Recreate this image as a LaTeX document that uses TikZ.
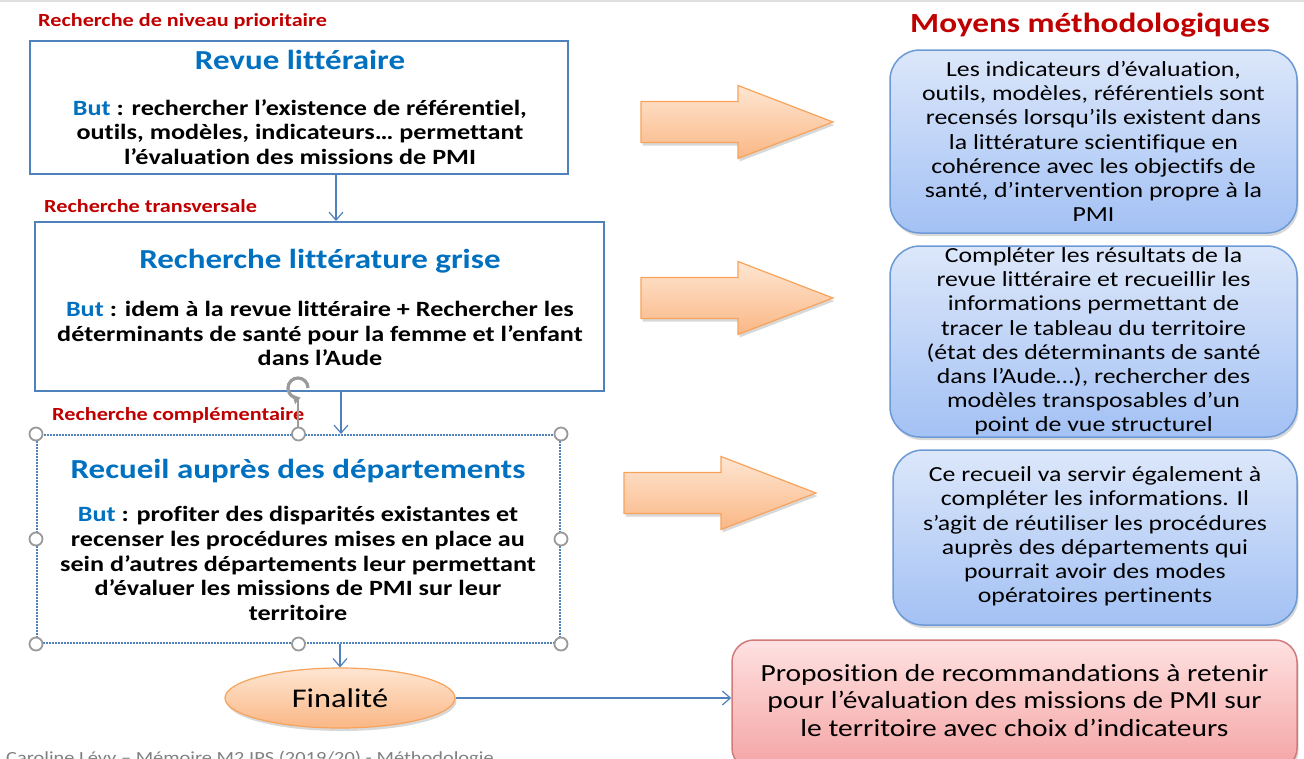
\documentclass[tikz,border=0pt]{standalone}
\usepackage{fontspec}
\setmainfont{Carlito}[FakeStretch=1.2, Ligatures=NoCommon]
\usetikzlibrary{shadows,arrows.meta,shapes.geometric,calc}
\definecolor{boxblue}{HTML}{4F81BD}
\definecolor{titleblue}{HTML}{0070C0}
\definecolor{labred}{HTML}{C00000}
\definecolor{orgdraw}{HTML}{F7A35C}
\definecolor{orgtop}{HTML}{FEE6D2}
\definecolor{orgbot}{HTML}{FAB785}
\definecolor{bltop}{HTML}{DCE7FA}
\definecolor{blbot}{HTML}{A3C1F4}
\definecolor{bldraw}{HTML}{6C9AD6}
\definecolor{rdtop}{HTML}{FFE1E1}
\definecolor{rdbot}{HTML}{F4A3A3}
\definecolor{rddraw}{HTML}{D37A7A}
\definecolor{hgray}{HTML}{9A9A9A}
\begin{document}
\begin{tikzpicture}[x=1pt,y=-1pt,
  lbox/.style={draw=boxblue, line width=2pt, rectangle, inner sep=0pt},
  ltitle/.style={font=\fontsize{27.5}{30}\selectfont\bfseries, text=titleblue, inner sep=0pt},
  lbody/.style={font=\fontsize{21.8}{24.6}\selectfont\bfseries, align=center, inner sep=0pt},
  rlabel/.style={font=\fontsize{18.5}{20}\selectfont\bfseries, text=labred, anchor=west, inner sep=0pt},
  softshadow/.style={drop shadow={shadow xshift=1.5pt, shadow yshift=-3pt, opacity=0.25, fill=black!60}},
  rbox/.style={draw=bldraw, line width=1.5pt, rounded corners=30pt, top color=bltop, bottom color=blbot, softshadow, inner sep=0pt},
  rtext/.style={font=\fontsize{21.5}{24.2}\selectfont, align=center, inner sep=0pt},
  conn/.style={draw=boxblue, line width=1.2pt, -{Straight Barb[length=8pt,width=14pt]}},
  handle/.style={circle, draw=hgray, fill=white, line width=1.8pt, minimum size=13pt, inner sep=0pt},
  blockarrow/.pic={\path[draw=orgdraw, line width=1.2pt, top color=orgtop, bottom color=orgbot, softshadow, line join=miter]
     (0,-20.5) -- (97,-20.5) -- (97,-36.5) -- (192,0) -- (97,36.5) -- (97,20.5) -- (0,20.5) -- cycle;}
]
\useasboundingbox (0,0) rectangle (1304,758);
\begin{scope}
\clip (0,0) rectangle (1304,758);
\fill[white] (0,0) rectangle (1304,758);
\draw[gray!25, line width=2pt] (0,1) -- (1304,1);

% left column
\node[rlabel] (l1) at (38,21) {Recherche de niveau prioritaire};
\node[lbox, minimum width=538pt, minimum height=133pt] (b1) at (299,107.5) {};
\node[ltitle] (t1) at (300,60) {Revue littéraire};
\node[lbody] (d1) at (300,132) {{\color{titleblue}But} : rechercher l’existence de référentiel,\\outils, modèles,  indicateurs… permettant\\l’évaluation des missions de PMI};

\node[rlabel] (l2) at (44,206) {Recherche transversale};
\node[lbox, minimum width=569pt, minimum height=169pt] (b2) at (319.5,306.5) {};
\node[ltitle] (t2) at (320,261) {Recherche littérature grise};
\node[lbody] (d2) at (320,333.5) {{\color{titleblue}But} : idem à la revue littéraire + Rechercher les\\déterminants de santé pour la femme et l’enfant\\dans l’Aude};

\node[rlabel] (l3) at (52,415) {Recherche complémentaire};
\node[rectangle, draw=boxblue, line width=2pt, densely dotted, minimum width=523pt, minimum height=208pt, inner sep=0pt] (b3) at (298.5,539) {};
\node[ltitle] (t3) at (298,471) {Recueil auprès des départements};
\node[lbody] (d3) at (298,563.5) {{\color{titleblue}But} : profiter des disparités existantes et\\recenser les procédures mises en place au\\sein d’autres départements leur permettant\\d’évaluer les missions de PMI sur leur\\territoire};

% selection handles and rotation icon
\coordinate (rot) at (298,388);
\draw[hgray, line width=1.5pt] (rot) ++(0,10) -- (b3.north -| rot);
\draw[hgray, line width=3.2pt, -{Triangle[length=7pt,width=9pt]}] ($(rot)+(10,0)$) arc[start angle=0, end angle=285, radius=10pt];
\foreach \a in {north west,north,north east,west,east,south west,south,south east}
  \node[handle] at (b3.\a) {};

\node[ellipse, draw=orgdraw, line width=1.2pt, top color=orgtop, bottom color=orgbot, softshadow,
      minimum width=230pt, minimum height=60pt, inner sep=0pt, font=\fontsize{27}{30}\selectfont] (fin) at (340,698) {Finalité};

% connectors
\coordinate (x1) at (336,0);
\coordinate (x2) at (341,0);
\draw[conn] (b1.south -| x1) -- (b2.north -| x1);
\draw[conn] (b2.south -| x2) -- (b3.north -| x2);
\draw[conn] (b3.south -| fin.north) -- (fin.north);

% block arrows
\pic at (641,122) {blockarrow};
\pic at (641,298) {blockarrow};
\pic at (624,493) {blockarrow};

% right column
\node[font=\fontsize{27.7}{30}\selectfont\bfseries, text=labred, inner sep=0pt] (mt) at (1090,25) {Moyens méthodologiques};
\node[rbox, minimum width=407pt, minimum height=183pt] (r1) at (1093.5,141.5) {};
\node[rtext] (r1t) at (1093.5,141.5) {Les indicateurs d’évaluation,\\outils, modèles, référentiels sont\\recensés lorsqu’ils existent dans\\la littérature scientifique en\\cohérence avec les objectifs de\\santé, d’intervention propre à la\\PMI};
\node[rbox, minimum width=407pt, minimum height=191pt] (r2) at (1093.5,341.5) {};
\node[rtext] (r2t) at (1093.5,341.5) {Compléter les résultats de la\\revue littéraire et recueillir les\\informations permettant de\\tracer le tableau du territoire\\(état des déterminants de santé\\dans l’Aude…), rechercher des\\modèles transposables d’un\\point de vue structurel};
\node[rbox, minimum width=404pt, minimum height=175pt] (r3) at (1095,537.5) {};
\node[rtext] (r3t) at (1095,536.5) {Ce recueil va servir également à\\compléter les informations. Il\\s’agit de réutiliser les procédures\\auprès des départements qui\\pourrait avoir des modes\\opératoires pertinents};

\node[draw=rddraw, line width=1.5pt, rounded corners=22pt, top color=rdtop, bottom color=rdbot, softshadow,
      minimum width=565pt, minimum height=130pt, inner sep=0pt] (reco) at (1014.5,705) {};
\node[font=\fontsize{24.6}{27.5}\selectfont, align=center, inner sep=0pt] (recot) at (1014.5,700.5) {Proposition de recommandations à retenir\\pour l’évaluation des missions de PMI sur\\le territoire avec choix d’indicateurs};
\draw[conn] (fin.east) -- (fin.east -| reco.west);

% footer (cut by the picture's edge, as in the reference)
\node[font=\fontsize{17}{20}\selectfont, text=gray, anchor=base west, inner sep=0pt] (foot) at (6,763) {Caroline Lévy – Mémoire M2 IPS (2019/20) - Méthodologie};
\end{scope}
\end{tikzpicture}
\end{document}
